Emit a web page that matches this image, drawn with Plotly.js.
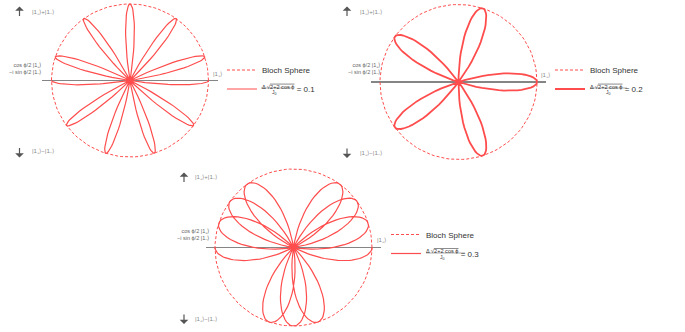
<!DOCTYPE html>
<html><head><meta charset="utf-8">
<script src="https://cdn.plot.ly/plotly-3.0.1.min.js"></script>
<style>html,body{margin:0;padding:0;background:#fff}#chart{width:685px;height:332px}</style>
</head><body><div id="chart"></div>
<script>
// ---------------- data ----------------
const ratioValues = ['0.1', '0.2', '0.3'];
// petal tip directions (degrees) and which part of the petal is drawn
const tips1  = [0, -36, -72, -108, -144, 162, 126, 90, 54, 18, 180];
const parts1 = ['cw', 'full', 'full', 'full', 'full', 'full', 'full', 'full', 'full', 'full', 'ccw'];
const tipR1  = [1, 1, 1, 1, 1, 1, 1, 1, 1, 1, 1];
const halfWidth1 = 9;

const tips2  = [0, 144, -72, 72, -144];
const parts2 = ['full', 'full', 'full', 'full', 'full'];
const tipR2  = [1, 1, 1, 1, 1];
const halfWidth2 = 18;

const tips3  = [0, 126, -108, 18, 144, -90, 36, 162, -72, 54, 180];
const parts3 = ['cw', 'full', 'full', 'full', 'full', 'full', 'full', 'full', 'full', 'full', 'ccw'];
const tipR3  = [1, 1, 1, 1, 1, 1, 1, 1, 1, 1, 1];
const halfWidth3 = 27;

const labelUp = '|1<sub>+</sub>⟩+|1<sub>−</sub>⟩';
const labelDown = '|1<sub>+</sub>⟩−|1<sub>−</sub>⟩';
const labelLeft = 'cos ϕ/2 |1<sub>+</sub>⟩<br>−i sin ϕ/2 |1<sub>−</sub>⟩';
const labelRight = '|1<sub>+</sub>⟩';
const sphereName = 'Bloch Sphere';

// ---------------- helpers ----------------
const W = 685, H = 332;
const PX = v => v / W, PY = v => 1 - v / H;
const RED = '#ff4d4d';
const FONT = 'Liberation Sans, Arial, sans-serif';
const D2R = Math.PI / 180;

function petals(tips, parts, radii, hw) {
  const xs = [], ys = [], N = 40;
  tips.forEach((t, i) => {
    let a0, a1;
    if (parts[i] === 'cw') { a0 = t; a1 = t - hw; }
    else if (parts[i] === 'ccw') { a0 = t + hw; a1 = t; }
    else { a0 = t - hw; a1 = t + hw; }
    for (let j = 0; j <= N; j++) {
      const a = a0 + (a1 - a0) * j / N;
      const r = radii[i] * Math.cos((a - t) / hw * 90 * D2R);
      xs.push(r * Math.cos(a * D2R));
      ys.push(r * Math.sin(a * D2R));
    }
  });
  return {x: xs, y: ys};
}
function sphere() {
  const xs = [], ys = [];
  for (let a = 0; a <= 360; a += 3) { xs.push(Math.cos(a * D2R)); ys.push(Math.sin(a * D2R)); }
  return {x: xs, y: ys};
}

const panels = [
  {tips: tips1, parts: parts1, r: tipR1, hw: halfWidth1, lw: 1.2, ax: '', leg: 'legend'},
  {tips: tips2, parts: parts2, r: tipR2, hw: halfWidth2, lw: 1.8, ax: '2', leg: 'legend2'},
  {tips: tips3, parts: parts3, r: tipR3, hw: halfWidth3, lw: 1.2, ax: '3', leg: 'legend3'}
];

const traces = [];
panels.forEach((p, i) => {
  const c = sphere();
  traces.push({type: 'scatter', mode: 'lines', x: c.x, y: c.y, name: sphereName,
    xaxis: 'x' + p.ax, yaxis: 'y' + p.ax, legend: p.leg, hoverinfo: 'skip',
    line: {color: RED, width: 1, dash: '3px,2px'}});
  const f = petals(p.tips, p.parts, p.r, p.hw);
  traces.push({type: 'scatter', mode: 'lines', x: f.x, y: f.y,
    name: '<sup>Δ √<span style="text-decoration:overline">2+2 cos ϕ</span></sup> = ' + ratioValues[i],
    xaxis: 'x' + p.ax, yaxis: 'y' + p.ax, legend: p.leg, hoverinfo: 'skip',
    line: {color: RED, width: p.lw}});
});

function xa(d) { return {domain: d, range: [-1.12, 1.12], showgrid: false, zeroline: false,
  showticklabels: false, ticks: '', showline: false, fixedrange: true}; }
function ya(d, r) { return {domain: d, range: [-r, r], showgrid: false, zeroline: true,
  zerolinecolor: '#858585', zerolinewidth: 1.8, showticklabels: false, ticks: '', showline: false, fixedrange: true}; }

// panel geometry (px): centre x, centre y, radii
const geo = [
  {cx: 130, cy: 80.5, rx: 78.5, ry: 76.5},
  {cx: 458.5, cy: 82, rx: 78.5, ry: 77.5},
  {cx: 293.5, cy: 247.5, rx: 78.5, ry: 78.5}
];
const layout = {width: W, height: H, margin: {l: 0, r: 0, t: 0, b: 0},
  paper_bgcolor: '#fff', plot_bgcolor: 'rgba(0,0,0,0)', showlegend: true,
  annotations: [], shapes: []};
geo.forEach((g, i) => {
  const sfx = i === 0 ? '' : String(i + 1);
  const hx = 1.12 * g.rx, hy = 1.05 * g.ry;
  layout['xaxis' + sfx] = xa([PX(g.cx - hx), PX(g.cx + hx)]);
  layout['yaxis' + sfx] = ya([PY(g.cy + hy), PY(g.cy - hy)], 1.05);
});

const legPos = [
  {x: 222, y: 55.5, den: 274, fy: 88, fx0: 261, fx1: 292},
  {x: 550, y: 55.5, den: 608, fy: 88, fx0: 590, fx1: 627},
  {x: 386, y: 220, den: 442, fy: 253, fx0: 426, fx1: 465}
];
legPos.forEach((l, i) => {
  layout[i === 0 ? 'legend' : 'legend' + (i + 1)] = {x: PX(l.x), y: PY(l.y), xanchor: 'left', yanchor: 'top',
    bgcolor: 'rgba(0,0,0,0)', font: {family: FONT, size: 8, color: '#333'}, tracegroupgap: 0};
  layout.annotations.push({xref: 'paper', yref: 'paper', x: PX(l.den), y: PY(l.fy + 4), text: 'J<sub>0</sub>',
    showarrow: false, xanchor: 'center', yanchor: 'middle', font: {family: FONT, size: 5, color: '#333'}});
  layout.shapes.push({type: 'line', xref: 'paper', yref: 'paper', x0: PX(l.fx0), x1: PX(l.fx1), y0: PY(l.fy), y1: PY(l.fy),
    line: {color: '#555', width: 0.5}});
});

const annPos = [
  {ax: 19.5, up: 6.5, dn: 157.5, ay: 12, tx: 30, dy: 152, lx: 43, ly: 69.5, rx: 211, ry: 74},
  {ax: 347, up: 6.5, dn: 158, ay: 12, tx: 358, dy: 153, lx: 382, ly: 69.5, rx: 539, ry: 75},
  {ax: 184, up: 172.5, dn: 324, ay: 177, tx: 193, dy: 319, lx: 210.5, ly: 234.5, rx: 375, ry: 240}
];
annPos.forEach(a => {
  const add = (x, y, text, xanchor, size, color) => layout.annotations.push({xref: 'paper', yref: 'paper',
    x: PX(x), y: PY(y), text, showarrow: false, xanchor, yanchor: 'middle', align: xanchor === 'right' ? 'right' : 'left',
    font: {family: FONT, size, color}});
  const arrow = (x, y, dy) => layout.annotations.push({xref: 'paper', yref: 'paper', x: PX(x), y: PY(y),
    ax: 0, ay: dy, text: '', showarrow: true, arrowhead: 1, arrowsize: 1.2, arrowwidth: 1.2,
    arrowcolor: '#555', standoff: 0, startstandoff: 0});
  arrow(a.ax, a.up, 11);
  add(a.tx, a.ay, labelUp, 'left', 6, '#888');
  arrow(a.ax, a.dn, -11);
  add(a.tx, a.dy, labelDown, 'left', 6, '#888');
  add(a.lx, a.ly, labelLeft, 'right', 5.5, '#666');
  add(a.rx, a.ry, labelRight, 'left', 6, '#888');
});

Plotly.newPlot('chart', traces, layout, {staticPlot: true, displayModeBar: false});
</script>
</body></html>
